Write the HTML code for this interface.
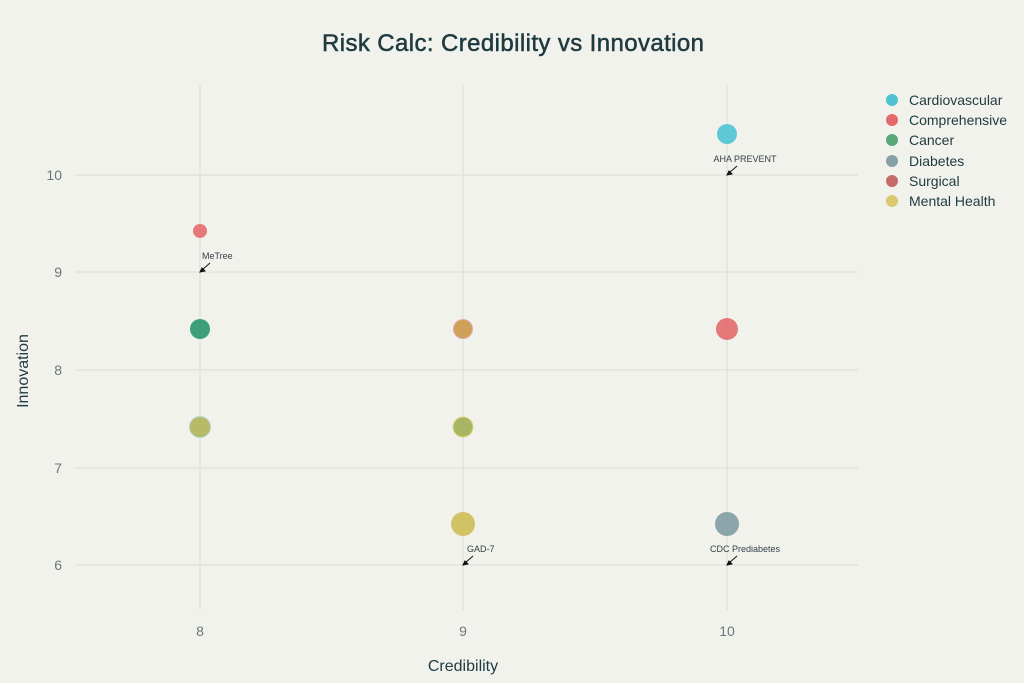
<!DOCTYPE html>
<html><head><meta charset="utf-8"><style>
body{margin:0;background:#f2f2ed;}
svg{display:block;font-family:"Liberation Sans",sans-serif;}
</style></head><body>
<svg width="1024" height="683" viewBox="0 0 1024 683">
<rect width="1024" height="683" fill="#f2f2ed"/>
<text x="513" y="51" text-anchor="middle" font-size="24" fill="#1f3a40" stroke="#1f3a40" stroke-width="0.5" textLength="382">Risk Calc: Credibility vs Innovation</text>
<g stroke="#dcdcd6" stroke-width="1">
<line x1="200" y1="85" x2="200" y2="610"/><line x1="463" y1="85" x2="463" y2="610"/><line x1="727" y1="85" x2="727" y2="610"/>
<line x1="75" y1="175" x2="858" y2="175"/><line x1="75" y1="272" x2="858" y2="272"/><line x1="75" y1="370" x2="858" y2="370"/><line x1="75" y1="468" x2="858" y2="468"/><line x1="75" y1="565" x2="858" y2="565"/>
</g>
<g font-size="14" fill="#6a787d" text-anchor="end">
<text x="62" y="180">10</text><text x="62" y="277">9</text><text x="62" y="375">8</text><text x="62" y="473">7</text><text x="62" y="570">6</text>
</g>
<g font-size="14" fill="#6a787d" text-anchor="middle">
<text x="200" y="636">8</text><text x="463" y="636">9</text><text x="727" y="636">10</text>
</g>
<text x="463" y="671" text-anchor="middle" font-size="16" fill="#1f3a40">Credibility</text>
<text transform="translate(28,371) rotate(-90)" text-anchor="middle" font-size="16" fill="#1f3a40">Innovation</text>
<g opacity="0.9">
<circle cx="200" cy="231" r="7" fill="#e36b6b"/>
<circle cx="200" cy="329" r="10" fill="#2a9670"/>
<circle cx="200" cy="427" r="11" fill="#a9d4c8"/><circle cx="200" cy="427" r="10" fill="#b3b45a"/>
<circle cx="463" cy="329" r="10" fill="#e0a3a3"/><circle cx="463" cy="329" r="9" fill="#c99a48"/>
<circle cx="463" cy="427" r="10.5" fill="#e0d070"/><circle cx="463" cy="427" r="9.5" fill="#a0b055"/>
<circle cx="463" cy="524" r="12" fill="#cdbc55"/>
<circle cx="727" cy="134" r="10" fill="#4fc3d4"/>
<circle cx="727" cy="329" r="11" fill="#e36b6b"/>
<circle cx="727" cy="524" r="12" fill="#7f9ca3"/>
</g>
<g stroke="#111" stroke-width="1" fill="#111">
<line x1="210" y1="263" x2="202" y2="270"/><path d="M200,272 l5,-1 l-3,-3z"/>
<line x1="473" y1="556" x2="465" y2="563"/><path d="M463,565 l5,-1 l-3,-3z"/>
<line x1="737" y1="166" x2="729" y2="173"/><path d="M727,175 l5,-1 l-3,-3z"/>
<line x1="737" y1="556" x2="729" y2="563"/><path d="M727,565 l5,-1 l-3,-3z"/>
</g>
<g font-size="9" fill="#333f45">
<text x="202" y="259">MeTree</text>
<text x="467" y="552">GAD-7</text>
<text x="745" y="162" text-anchor="middle">AHA PREVENT</text>
<text x="745" y="552" text-anchor="middle">CDC Prediabetes</text>
</g>
<g font-size="14" fill="#1f3a40">
<circle cx="892" cy="100" r="6" fill="#4fc3d4"/><text x="909" y="105">Cardiovascular</text>
<circle cx="892" cy="120" r="6" fill="#e36b6b"/><text x="909" y="125">Comprehensive</text>
<circle cx="892" cy="140" r="6" fill="#5aa77a"/><text x="909" y="145">Cancer</text>
<circle cx="892" cy="161" r="6" fill="#86a0a8"/><text x="909" y="166">Diabetes</text>
<circle cx="892" cy="181" r="6" fill="#c76a6a"/><text x="909" y="186">Surgical</text>
<circle cx="892" cy="201" r="6" fill="#dcc870"/><text x="909" y="206">Mental Health</text>
</g>
</svg>
</body></html>
